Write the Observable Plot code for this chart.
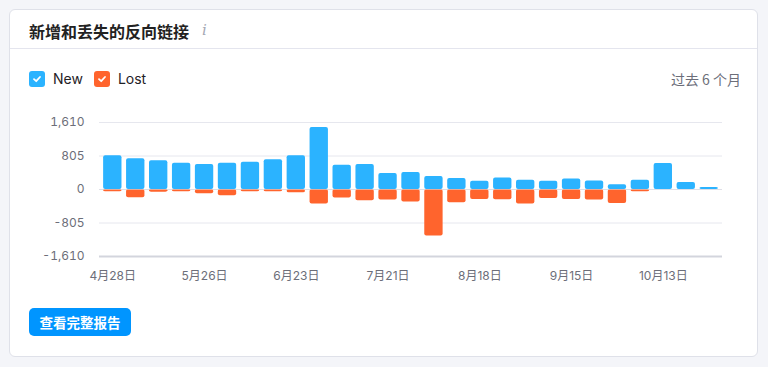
<!DOCTYPE html>
<html>
<head>
<meta charset="utf-8">
<script src="https://cdn.jsdelivr.net/npm/d3@7"></script>
<script src="https://cdn.jsdelivr.net/npm/@observablehq/plot@0.6"></script>
<style>
  html, body { margin: 0; padding: 0; background: #f4f5f9; width: 768px; height: 367px; overflow: hidden; }
  body { font-family: Inter, "Noto Sans CJK SC", sans-serif; position: relative; }
  .card { position: absolute; left: 9px; top: 9px; width: 747px; height: 346px; background: #fff; border: 1px solid #dfe1e9; border-radius: 6px; }
  .title { position: absolute; left: 29px; top: 19px; font-size: 16px; font-weight: 700; color: #222; font-family: "Noto Sans CJK SC", Inter, sans-serif; }
  .info { position: absolute; left: 202px; top: 21px; font-size: 15px; color: #a5a8b4; font-family: "DejaVu Serif", serif; font-style: italic; }
  .divider { position: absolute; left: 10px; width: 747px; top: 48px; height: 1px; background: #e4e5ee; }
  .legend { position: absolute; top: 70px; left: 29px; display: flex; align-items: center; font-size: 14px; color: #1f2126; }
  .box { width: 16px; height: 16px; border-radius: 3px; display: inline-flex; align-items: center; justify-content: center; margin-right: 8px; }
  .period { position: absolute; right: 27px; top: 69px; font-size: 14px; color: #6c6e79; font-family: "Noto Sans CJK SC", Inter, sans-serif; }
  .btn { position: absolute; left: 29px; top: 308px; width: 102px; height: 28px; border-radius: 5px; background: #0095ff; color: #fff; font-size: 13.5px; font-weight: 700; display: flex; align-items: center; justify-content: center; font-family: "Noto Sans CJK SC", sans-serif; }
  #chart { position: absolute; left: 0; top: 100px; }
</style>
</head>
<body>
<div class="card"></div>
<div class="title">新增和丢失的反向链接</div>
<div class="info">i</div>
<div class="divider"></div>
<div class="legend">
  <span class="box" style="background:#2bb3ff"><svg width="10" height="10" viewBox="0 0 10 10"><path d="M2 5.2 L4.2 7.2 L8 3" stroke="#fff" stroke-width="1.8" fill="none" stroke-linecap="round" stroke-linejoin="round"/></svg></span>
  <span style="margin-right:11px">New</span>
  <span class="box" style="background:#ff642d"><svg width="10" height="10" viewBox="0 0 10 10"><path d="M2 5.2 L4.2 7.2 L8 3" stroke="#fff" stroke-width="1.8" fill="none" stroke-linecap="round" stroke-linejoin="round"/></svg></span>
  <span>Lost</span>
</div>
<div class="period">过去 6 个月</div>
<div id="chart"></div>
<div class="btn">查看完整报告</div>
<script>
const weeks = ["4月28日","5月5日","5月12日","5月19日","5月26日","6月2日","6月9日","6月16日","6月23日","6月30日","7月7日","7月14日","7月21日","7月28日","8月4日","8月11日","8月18日","8月25日","9月1日","9月8日","9月15日","9月22日","9月29日","10月6日","10月13日","10月20日","10月27日"];
const newLinks = [813, 741, 693, 630, 598, 630, 654, 717, 813, 1490, 582, 598, 383, 406, 311, 263, 199, 279, 223, 199, 255, 207, 112, 223, 622, 167, 48];
const lostLinks = [56, 199, 64, 56, 104, 151, 56, 56, 80, 351, 207, 271, 255, 303, 1116, 319, 239, 247, 351, 215, 239, 255, 335, 56, 0, 0, 0];
const xTicks = ["4月28日","5月26日","6月23日","7月21日","8月18日","9月15日","10月13日"];
const yTicks = [-1610, -805, 0, 805, 1610];

const rows = [];
weeks.forEach((w, i) => {
  rows.push({week: w, value: newLinks[i], series: "New"});
  if (lostLinks[i] > 0) rows.push({week: w, value: -lostLinks[i], series: "Lost"});
});

const chart = Plot.plot({
  width: 768,
  height: 190,
  marginLeft: 99,
  marginRight: 46,
  marginTop: 22,
  marginBottom: 34,
  style: {fontFamily: 'Inter, "Noto Sans CJK SC", sans-serif', fontSize: "12px", color: "#6c6e79", background: "transparent"},
  x: {domain: weeks, round: false, paddingInner: 0.2, paddingOuter: 0.18, ticks: xTicks, tickSize: 0, tickPadding: 15, label: null},
  y: {domain: [-1610, 1610], ticks: yTicks, tickFormat: d => d.toLocaleString("en-US"), tickSize: 0, tickPadding: 15, label: null},
  color: {domain: ["New", "Lost"], range: ["#2bb3ff", "#ff642d"]},
  marks: [
    Plot.ruleY(yTicks.slice(1), {stroke: "#e6e7ee", strokeWidth: 1}),
    Plot.ruleY([-1610], {stroke: "#d3d5dd", strokeWidth: 2}),
    Plot.barY(rows, {x: "week", y: "value", fill: "series", rx: 2}),
    Plot.ruleY([0], {stroke: "#d9dbe3", strokeWidth: 1, strokeOpacity: 0.6})
  ]
});
document.getElementById("chart").appendChild(chart);
</script>
</body>
</html>
